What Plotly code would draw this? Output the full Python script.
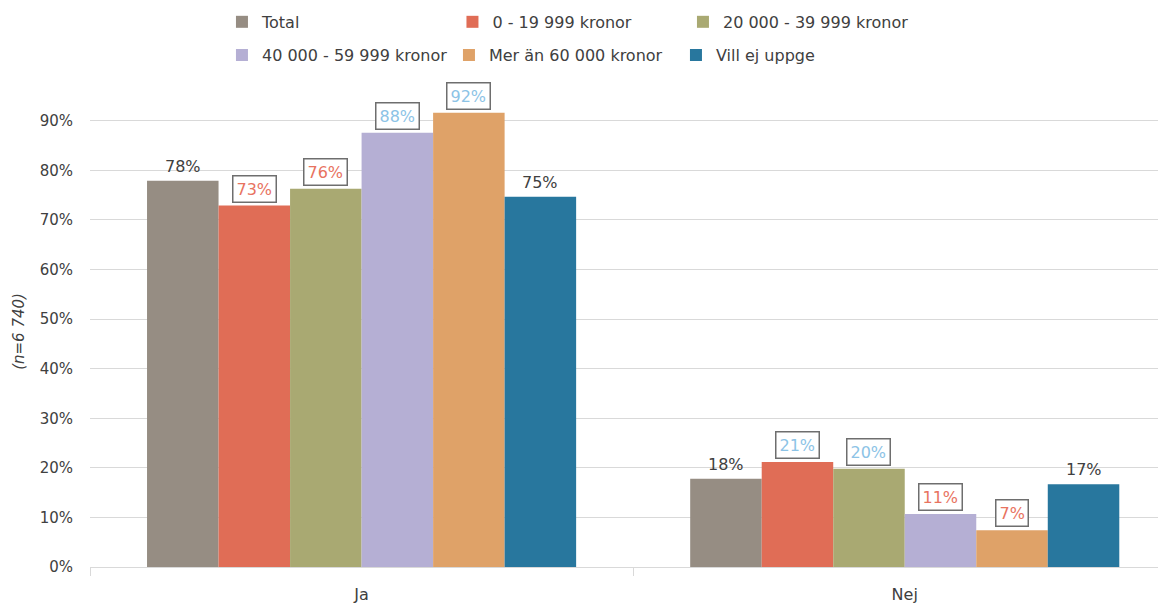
import plotly.graph_objects as go

categories = ["Ja", "Nej"]
series_names = ["Total", "0 - 19 999 kronor", "20 000 - 39 999 kronor",
                "40 000 - 59 999 kronor", "Mer än 60 000 kronor", "Vill ej uppge"]
total = [0.779, 0.178]
inc_0_19 = [0.729, 0.212]
inc_20_39 = [0.763, 0.198]
inc_40_59 = [0.876, 0.107]
inc_60 = [0.916, 0.074]
vill_ej = [0.747, 0.167]
series_values = [total, inc_0_19, inc_20_39, inc_40_59, inc_60, vill_ej]
y_ticks = [0, 0.1, 0.2, 0.3, 0.4, 0.5, 0.6, 0.7, 0.8, 0.9]
y_tick_labels = ["0%", "10%", "20%", "30%", "40%", "50%", "60%", "70%", "80%", "90%"]
y_title = "(n=6 740)"

colors = ["#968D83", "#E06D56", "#A9A972", "#B5AFD4", "#DFA268", "#28779E"]
FONT = "Century Gothic, DejaVu Sans, sans-serif"
TXT = "#404040"
GRID = "#D9D9D9"
BLUE_TXT = "#8CC3E6"
RED_TXT = "#E8735F"
bargap = 0.21

fig = go.Figure()
for i, (name, vals) in enumerate(zip(series_names, series_values)):
    fig.add_trace(go.Bar(
        x=categories, y=vals, name=name,
        marker=dict(color=colors[i], line=dict(width=0)),
        legend="legend" if i < 3 else "legend2",
        hovertemplate="%{x}: %{y:.0%}<extra>" + name + "</extra>",
    ))

# data labels
n = len(series_values)
w = (1 - bargap) / n
annotations = []
for i, vals in enumerate(series_values):
    for j, v in enumerate(vals):
        xpos = j + (i - (n - 1) / 2) * w
        label = f"{round(v * 100)}%"
        if i == 0 or i == n - 1:
            annotations.append(dict(
                x=xpos, y=v, xref="x", yref="y", text=label, showarrow=False,
                yanchor="bottom", yshift=3, font=dict(family=FONT, size=16, color=TXT)))
        else:
            col = BLUE_TXT if v > total[j] else RED_TXT
            annotations.append(dict(
                x=xpos, y=v, xref="x", yref="y", text=label, showarrow=False,
                yanchor="bottom", yshift=3, font=dict(family=FONT, size=16, color=col),
                bordercolor="#6E6E6E", borderwidth=1.5, borderpad=3, bgcolor="white"))

legend_common = dict(
    orientation="h", xanchor="left", yanchor="middle",
    xref="container", yref="container",
    font=dict(family=FONT, size=16, color=TXT),
    entrywidthmode="pixels", itemwidth=30,
    bgcolor="rgba(0,0,0,0)", tracegroupgap=0,
)

fig.update_layout(
    width=1166, height=605,
    margin=dict(l=82, r=8, t=88, b=46, autoexpand=False),
    plot_bgcolor="white", paper_bgcolor="white",
    barmode="group", bargap=bargap, bargroupgap=0,
    font=dict(family=FONT, size=15, color=TXT),
    legend=dict(x=0.1835, y=0.977, entrywidth=185.5, **legend_common),
    legend2=dict(x=0.1835, y=0.922, entrywidth=182, **legend_common),
    annotations=annotations,
    xaxis=dict(
        type="category", range=[-0.5, 1.481],
        showgrid=False, showline=True, linecolor=GRID, linewidth=1,
        ticks="outside", tickson="boundaries", ticklen=8, tickcolor=GRID,
        ticklabelstandoff=13,
        tickfont=dict(family=FONT, size=16, color=TXT),
    ),
    yaxis=dict(
        range=[0, 0.95], tickvals=y_ticks, ticktext=y_tick_labels,
        showgrid=True, gridcolor=GRID, gridwidth=1, zeroline=False, showline=False,
        ticks="", ticklabelstandoff=16,
        tickfont=dict(family=FONT, size=15, color=TXT),
        title=dict(text=y_title, standoff=11,
                   font=dict(family=FONT, size=15, color=TXT, style="italic")),
    ),
)

fig.write_html("out.html")
